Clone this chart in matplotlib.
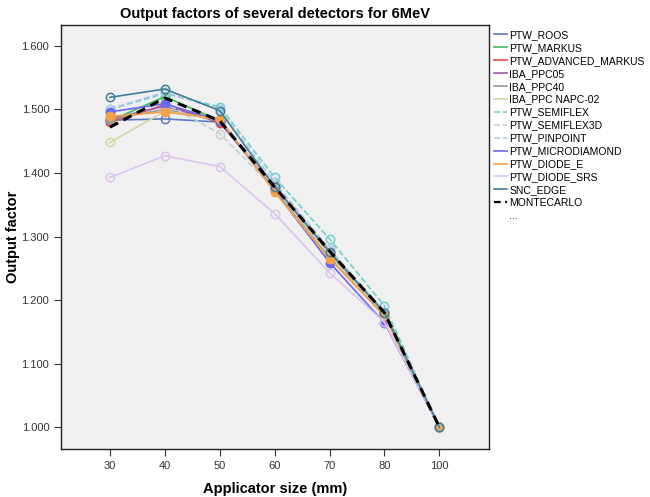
import matplotlib
matplotlib.use("Agg")
import matplotlib.pyplot as plt
from matplotlib.lines import Line2D

plt.rcParams["font.family"] = ["Liberation Sans", "DejaVu Sans"]

sizes = ["30", "40", "50", "60", "70", "80", "100"]

ptw_roos = [1.483, 1.485, 1.480, 1.375, 1.270, 1.178, 1.000]
ptw_markus = [1.482, 1.520, 1.482, 1.378, 1.275, 1.182, 1.000]
ptw_adv_markus = [1.480, 1.507, 1.479, 1.380, 1.272, 1.180, 1.000]
iba_ppc05 = [1.485, 1.505, 1.481, 1.376, 1.270, 1.178, 1.000]
iba_ppc40 = [1.484, 1.500, 1.482, 1.374, 1.268, 1.176, 1.000]
iba_napc02 = [1.448, 1.497, 1.484, 1.376, 1.270, 1.178, 1.000]
ptw_semiflex = [1.500, 1.525, 1.504, 1.393, 1.296, 1.191, 1.000]
ptw_semiflex3d = [1.495, 1.510, 1.462, 1.375, 1.275, 1.178, 1.000]
ptw_pinpoint = [1.501, 1.527, 1.500, 1.385, 1.280, 1.182, 1.000]
ptw_microdiamond = [1.496, 1.509, 1.482, 1.372, 1.259, 1.164, 1.000]
ptw_diode_e = [1.489, 1.496, 1.485, 1.370, 1.265, 1.175, 1.000]
ptw_diode_srs = [1.393, 1.427, 1.410, 1.336, 1.243, 1.165, 1.000]
snc_edge = [1.519, 1.532, 1.498, 1.378, 1.276, 1.180, 1.000]
montecarlo = [1.472, 1.518, 1.482, 1.378, 1.277, 1.180, 1.000]

# (label, values, colour, linestyle, filled marker)
series = [
    ("PTW_ROOS", ptw_roos, "#5b7bc0", "-", False),
    ("PTW_MARKUS", ptw_markus, "#3fba5f", "-", True),
    ("PTW_ADVANCED_MARKUS", ptw_adv_markus, "#e5484a", "-", True),
    ("IBA_PPC05", iba_ppc05, "#9a5ea8", "-", True),
    ("IBA_PPC40", iba_ppc40, "#9a9a9a", "-", True),
    ("IBA_PPC NAPC-02", iba_napc02, "#d8d3a5", "-", False),
    ("PTW_SEMIFLEX", ptw_semiflex, "#6fd0cd", "--", False),
    ("PTW_SEMIFLEX3D", ptw_semiflex3d, "#c9cfd3", "--", False),
    ("PTW_PINPOINT", ptw_pinpoint, "#b0c8e4", "--", False),
    ("PTW_MICRODIAMOND", ptw_microdiamond, "#6a6af0", "-", True),
    ("PTW_DIODE_E", ptw_diode_e, "#f5a04a", "-", True),
    ("PTW_DIODE_SRS", ptw_diode_srs, "#ddc5ee", "-", False),
    ("SNC_EDGE", snc_edge, "#3f7f96", "-", False),
]

fig = plt.figure(figsize=(6.5, 4.97), dpi=100)
ax = fig.add_axes([0.094, 0.097, 0.658, 0.853])
ax.set_facecolor("#f0f0f0")

x = list(range(len(sizes)))
handles = []
for label, values, color, style, filled in series:
    ax.plot(x, values, linestyle=style, color=color, linewidth=1.2,
            marker="o", markersize=6, markeredgewidth=1.1,
            markerfacecolor=color if filled else "none", markeredgecolor=color)
    handles.append(Line2D([], [], color=color, linestyle=style, linewidth=1.2, label=label))

ax.plot(x, montecarlo, linestyle=(0, (3, 2)), color="black", linewidth=2.2)
handles.append(Line2D([], [], color="black", linestyle=(0, (3, 2)), linewidth=1.6, label="MONTECARLO"))
handles.append(Line2D([], [], color="none", label="..."))

ax.set_xlim(-0.89, 6.9)
ax.set_ylim(0.966, 1.633)
ax.set_xticks(x)
ax.set_xticklabels(sizes)
yticks = [1.0, 1.1, 1.2, 1.3, 1.4, 1.5, 1.6]
ax.set_yticks(yticks)
ax.set_yticklabels([f"{v:.3f}" for v in yticks])
ax.tick_params(direction="out", length=5, labelsize=8, colors="#333333")
for spine in ax.spines.values():
    spine.set_color("#222222")
    spine.set_linewidth(1.0)

ax.set_title("Output factors of several detectors for 6MeV", fontsize=10.5,
             fontweight="bold", pad=5)
ax.set_xlabel("Applicator size (mm)", fontsize=10.5, fontweight="bold", labelpad=8)
ax.set_ylabel("Output factor", fontsize=10.5, fontweight="bold", labelpad=1)

fig.legend(handles=handles, loc="upper left", bbox_to_anchor=(0.753, 0.948),
           frameon=False, fontsize=7.5, handlelength=1.3, handletextpad=0.2,
           labelspacing=0.28, borderaxespad=0)

fig.savefig("out.png", dpi=100)
